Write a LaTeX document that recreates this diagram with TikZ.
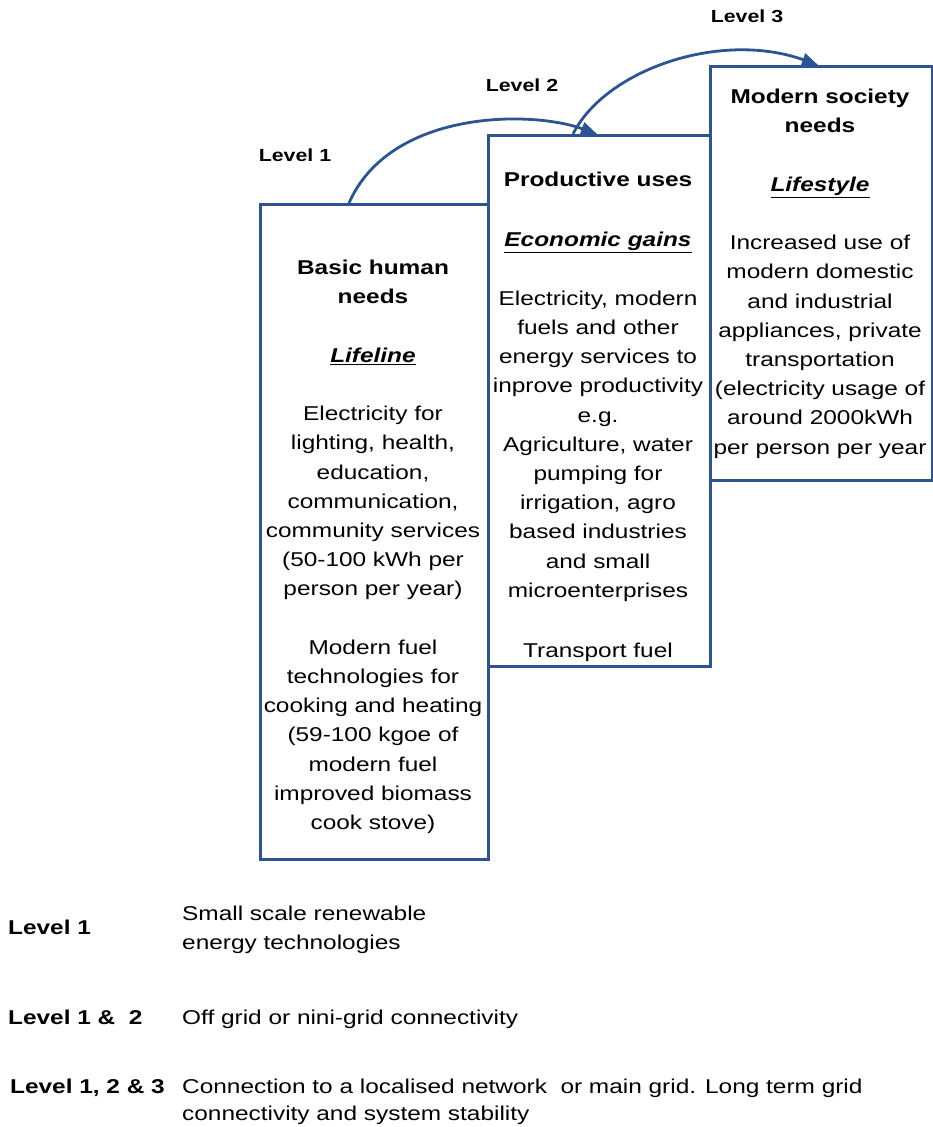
\documentclass[tikz,border=0pt]{standalone}
\usepackage{fontspec}
\setmainfont{Liberation Sans}[FakeStretch=1.22]
\usetikzlibrary{arrows.meta}
\definecolor{lineblue}{RGB}{44,84,146}
\begin{document}
\begin{tikzpicture}[x=1pt,y=-1pt,
  box/.style={draw=lineblue, line width=2.8pt, anchor=north west, inner sep=0pt},
  boxtext/.style={align=center, anchor=north, inner sep=0pt, font=\fontsize{20}{29.2}\selectfont},
  toplab/.style={inner sep=0pt, font=\bfseries\fontsize{17.5}{21}\selectfont},
  botlab/.style={inner sep=0pt, anchor=north west, font=\bfseries\fontsize{20}{24}\selectfont},
  desc/.style={inner sep=0pt, anchor=north west, align=left},
  conn/.style={draw=lineblue, line width=2.8pt, -{Triangle[length=16pt,width=13pt]}}
]
\useasboundingbox (0,0) rectangle (932,1127);

% boxes
\node[box, minimum width=228pt, minimum height=655pt] (b1) at (259,203) {};
\node[box, minimum width=222pt, minimum height=531pt] (b2) at (487,134) {};
\node[box, minimum width=221.5pt, minimum height=414pt] (b3) at (709,65) {};

% box texts
\node[boxtext] (t1) at (373,260) {\textbf{Basic human}\\\textbf{needs}\\[29.2pt]
\underline{\textbf{\textit{Lifeline}}}\\[29.2pt]
Electricity for\\lighting, health,\\education,\\communication,\\community services\\(50-100 kWh per\\person per year)\\[29.2pt]
Modern fuel\\technologies for\\cooking and heating\\(59-100 kgoe of\\modern fuel\\improved biomass\\cook stove)};

\node[boxtext] (t2) at (598,172) {\textbf{Productive uses}\\[31pt]
\underline{\textbf{\textit{Economic gains}}}\\[29.2pt]
Electricity, modern\\fuels and other\\energy services to\\inprove productivity\\e.g.\\Agriculture, water\\pumping for\\irrigation, agro\\based industries\\and small\\microenterprises\\[31pt]
Transport fuel};

\node[boxtext] (t3) at (820,89) {\textbf{Modern society}\\\textbf{needs}\\[29.2pt]
\underline{\textbf{\textit{Lifestyle}}}\\[29.2pt]
Increased use of\\modern domestic\\and industrial\\appliances, private\\transportation\\(electricity usage of\\around 2000kWh\\per person per year};

% level labels at top
\node[toplab] (l1) at (295,155) {Level 1};
\node[toplab] (l2) at (522,85) {Level 2};
\node[toplab] (l3) at (747,16) {Level 3};

% connectors
\coordinate (s1) at (349,203);
\coordinate (e1) at (597,134);
\coordinate (s2) at (573,134);
\coordinate (e2) at (818,65);
\draw[conn] (s1) .. controls (390,110) and (530,110) .. (e1);
\draw[conn] (s2) .. controls (605,70) and (720,30) .. (e2);

% bottom legend
\node[botlab] (k1) at (8,919.5) {Level 1};
\node[desc, font=\fontsize{20}{29}\selectfont] (d1) at (182,905.5) {Small scale renewable\\energy technologies};
\node[botlab] (k2) at (8,1009.5) {Level 1 \&\ \ 2};
\node[desc, font=\fontsize{20}{29}\selectfont] (d2) at (182,1009.5) {Off grid or nini-grid connectivity};
\node[botlab] (k3) at (10,1078.5) {Level 1, 2 \& 3};
\node[desc, font=\fontsize{20}{27}\selectfont] (d3) at (182,1078.5) {Connection to a localised network\ \ or main grid. Long term grid\\connectivity and system stability};
\end{tikzpicture}
\end{document}
